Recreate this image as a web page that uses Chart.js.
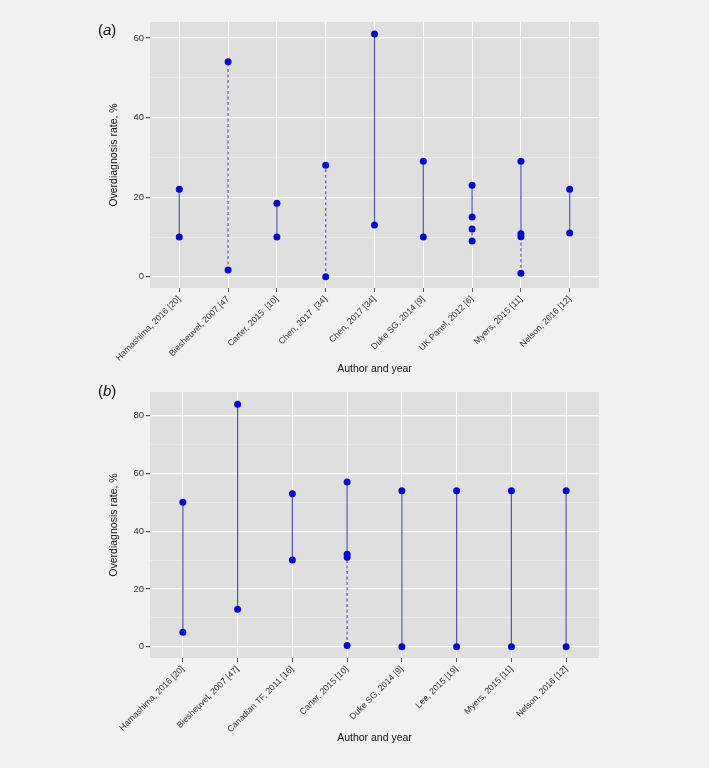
<!DOCTYPE html>
<html><head><meta charset="utf-8">
<script src="https://cdn.jsdelivr.net/npm/chart.js@4/dist/chart.umd.min.js"></script>
<style>
html,body{margin:0;padding:0;background:#f1f1f1;}
body{width:709px;height:768px;position:relative;overflow:hidden;font-family:"Liberation Sans",Arial,sans-serif;}
.panel{position:absolute;left:0;width:709px;height:384px;}
.tag{position:absolute;font-size:15px;color:#111;line-height:17px;}
</style></head><body>
<div class="panel" style="top:0"><canvas id="ca" width="709" height="384"></canvas></div>
<div class="panel" style="top:384px"><canvas id="cb" width="709" height="384"></canvas></div>
<div class="tag" style="left:98px;top:21px">(<i>a</i>)</div>
<div class="tag" style="left:98px;top:382px">(<i>b</i>)</div>
<script>
// ---- Panel (a) data ----
const labelsA = ["Hamashima, 2016 [20]", "Biesheuvel, 2007 [47", "Carter, 2015  [10]", "Chen, 2017  [34]", "Chen, 2017 [34]", "Duke SG, 2014 [9]", "UK Panel, 2012 [6]", "Myers, 2015 [11]", "Nelson, 2016 [12]"];
const pointsA = [[10, 22], [1.7, 54], [10, 18.5], [0, 28], [13, 61], [10, 29], [23, 15, 12, 9], [29, 10.8, 10.1, 0.9], [11, 22]];
const solidA = [[0, 10, 22], [2, 10, 18.5], [4, 13, 61], [5, 10, 29], [6, 15, 23], [7, 10.8, 29], [8, 11, 22]];
const dashedA = [[1, 1.7, 54], [3, 0, 28], [6, 9, 12], [7, 0.9, 10.1]];
const majorTicksA = [0, 20, 40, 60];
const minorTicksA = [10, 30, 50];
const yRangeA = [-2.8, 64];

// ---- Panel (b) data ----
const labelsB = ["Hamashima, 2016 [20]", "Biesheuvel, 2007 [47]", "Canadian TF, 2011 [16]", "Carter, 2015 [10]", "Duke SG, 2014 [9]", "Lee, 2015 [19]", "Myers, 2015 [11]", "Nelson, 2016 [12]"];
const pointsB = [[5, 50], [13, 84], [30, 53], [57, 32, 31, 0.4], [0, 54], [0, 54], [0, 54], [0, 54]];
const solidB = [[0, 5, 50], [1, 13, 84], [2, 30, 53], [3, 31, 57], [4, 0, 54], [5, 0, 54], [6, 0, 54], [7, 0, 54]];
const dashedB = [[3, 0.4, 31]];
const majorTicksB = [0, 20, 40, 60, 80];
const minorTicksB = [10, 30, 50, 70];
const yRangeB = [-3.9, 88.2];

const FAMILY = '"Liberation Sans", Arial, sans-serif';
const PAGE_BG = '#f1f1f1', PLOT_BG = '#dfdfdf';
const LINE_COLOR = 'rgba(55,55,150,0.85)', POINT_COLOR = '#0909cc';

const bgPlugin = {
  id: 'bg',
  beforeDraw(chart) {
    const { ctx, chartArea: a } = chart;
    ctx.save();
    ctx.fillStyle = PAGE_BG;
    ctx.fillRect(0, 0, chart.width, chart.height);
    ctx.fillStyle = PLOT_BG;
    ctx.fillRect(a.left, a.top, a.right - a.left, a.bottom - a.top);
    ctx.restore();
  }
};

function makeChart(id, labels, points, solid, dashed, majors, minors, yRange, cfg) {
  const datasets = [];
  const pts = [];
  points.forEach((arr, i) => arr.forEach(v => pts.push({ x: i, y: v })));
  datasets.push({ data: pts, pointRadius: 3.5, pointBackgroundColor: POINT_COLOR, pointBorderWidth: 0, showLine: false, order: 0 });
  const seg = (s, dash) => datasets.push({
    data: [{ x: s[0], y: s[1] }, { x: s[0], y: s[2] }],
    showLine: true, borderColor: LINE_COLOR, borderWidth: 1.2, borderDash: dash,
    pointRadius: 0, order: 1
  });
  solid.forEach(s => seg(s, []));
  dashed.forEach(s => seg(s, [3, 2.5]));
  const isMajor = c => c && c.tick && majors.includes(c.tick.value);
  return new Chart(document.getElementById(id), {
    type: 'scatter',
    data: { datasets },
    plugins: [bgPlugin],
    options: {
      responsive: false, animation: false, devicePixelRatio: 1,
      layout: { padding: { left: 90, right: 110, top: cfg.top, bottom: 0 } },
      plugins: { legend: { display: false }, tooltip: { enabled: false } },
      scales: {
        x: {
          type: 'linear', min: -0.6, max: labels.length - 1 + 0.6,
          afterBuildTicks: s => { s.ticks = labels.map((_, i) => ({ value: i })); },
          afterFit: s => { s.height = cfg.xh; },
          grid: { color: '#ffffff', lineWidth: 1, tickLength: 4, tickColor: '#555', drawTicks: true },
          border: { display: false },
          ticks: { autoSkip: false, maxRotation: 45, minRotation: 45, color: '#333333', font: { size: 8.7, family: FAMILY }, padding: 2, callback: v => labels[v] },
          title: { display: true, text: 'Author and year', color: '#111', font: { size: 10.5, family: FAMILY }, padding: { top: 0, bottom: cfg.xtp } }
        },
        y: {
          type: 'linear', min: yRange[0], max: yRange[1],
          afterBuildTicks: s => { s.ticks = [...minors, ...majors].sort((a, b) => a - b).map(v => ({ value: v })); },
          afterFit: s => { s.width = 60; },
          grid: {
            color: c => isMajor(c) ? '#ffffff' : 'rgba(255,255,255,0.55)',
            lineWidth: c => isMajor(c) ? 1.2 : 0.6,
            tickLength: 4,
            tickColor: c => isMajor(c) ? '#555' : 'rgba(0,0,0,0)'
          },
          border: { display: false },
          ticks: { color: '#333333', font: { size: 9.5, family: FAMILY }, padding: 2, callback: v => majors.includes(v) ? String(v) : '' },
          title: { display: true, text: 'Overdiagnosis rate, %', color: '#111', font: { size: 10.5, family: FAMILY }, padding: { top: 17.7, bottom: 0 } }
        }
      }
    }
  });
}

makeChart('ca', labelsA, pointsA, solidA, dashedA, majorTicksA, minorTicksA, yRangeA, { top: 22, xh: 96, xtp: 8.7 });
makeChart('cb', labelsB, pointsB, solidB, dashedB, majorTicksB, minorTicksB, yRangeB, { top: 8, xh: 110, xtp: 23.4 });
</script>
</body></html>
